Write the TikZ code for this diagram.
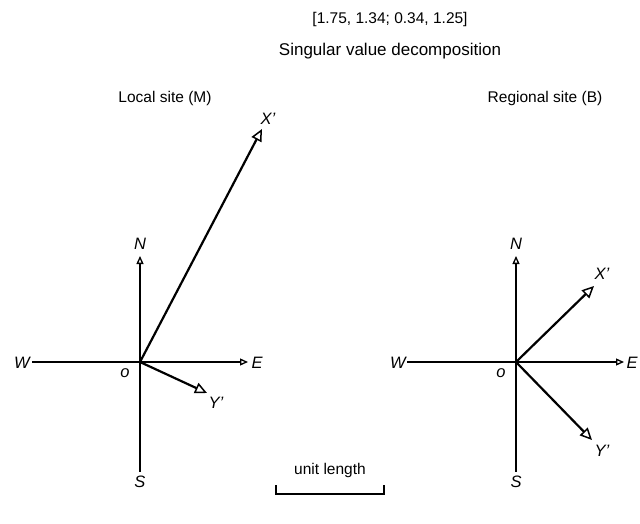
\documentclass[tikz,border=0pt]{standalone}
\usepackage{fontspec}
\setmainfont{Liberation Sans}
\usetikzlibrary{arrows.meta}
\begin{document}
\begin{tikzpicture}[x=1pt,y=-1pt,
  txt/.style={font=\fontsize{15.5}{18}\selectfont, inner sep=0pt},
  lab/.style={font=\fontsize{16.5}{18}\selectfont\itshape, inner sep=0pt},
  axis/.style={line width=2.2pt, -{Triangle[open,length=8pt,width=7pt,line width=1.3pt]}},
  plainaxis/.style={line width=2.2pt},
  vec/.style={line width=2.2pt, -{Triangle[open,length=12pt,width=11pt,line width=1.5pt]}},
  bar/.style={line width=1.5pt}]
\useasboundingbox (0,0) rectangle (640,524);
% titles
\node[txt] (t1) at (390,19) {[1.75, 1.34; 0.34, 1.25]};
\node[txt, font=\fontsize{17}{20}\selectfont] (t2) at (390,51) {Singular value decomposition};
\node[txt] (lt) at (165,98) {Local site (M)};
\node[txt] (rt) at (545,98) {Regional site (B)};
% left
\coordinate (oL) at (140,362);
\coordinate (nL) at (140,256);
\coordinate (eL) at (248,362);
\coordinate (wL) at (32,362);
\coordinate (sL) at (140,472);
\coordinate (xL) at (262,129);
\coordinate (yL) at (207,393);
\draw[axis] (oL) -- (nL);
\draw[axis] (wL) -- (eL);
\draw[plainaxis] (oL) -- (sL);
\draw[vec] (oL) -- (xL);
\draw[vec] (oL) -- (yL);
\node[lab] (NL) at (140,244) {N};
\node[lab] (EL) at (257,363) {E};
\node[lab] (WL) at (22,363) {W};
\node[lab] (SL) at (140,482) {S};
\node[lab] (OL) at (125,373) {o};
\node[lab] (XL) at (268,119) {X’};
\node[lab] (YL) at (216,403) {Y’};
% right
\coordinate (oR) at (516,362);
\coordinate (nR) at (516,256);
\coordinate (eR) at (624,362);
\coordinate (wR) at (407,362);
\coordinate (sR) at (516,472);
\coordinate (xR) at (594,286);
\coordinate (yR) at (592,440);
\draw[axis] (oR) -- (nR);
\draw[axis] (wR) -- (eR);
\draw[plainaxis] (oR) -- (sR);
\draw[vec] (oR) -- (xR);
\draw[vec] (oR) -- (yR);
\node[lab] (NR) at (516,244) {N};
\node[lab] (ER) at (632,363) {E};
\node[lab] (WR) at (398,363) {W};
\node[lab] (SR) at (516,482) {S};
\node[lab] (OR) at (501,373) {o};
\node[lab] (XR) at (602,274) {X’};
\node[lab] (YR) at (602,451) {Y’};
% unit length
\node[txt] (ul) at (330,470) {unit length};
\coordinate (b1) at (276,485);
\coordinate (b2) at (276,494);
\coordinate (b3) at (384,494);
\coordinate (b4) at (384,485);
\draw[bar] (b1) -- (b2) -- (b3) -- (b4);
\end{tikzpicture}
\end{document}
